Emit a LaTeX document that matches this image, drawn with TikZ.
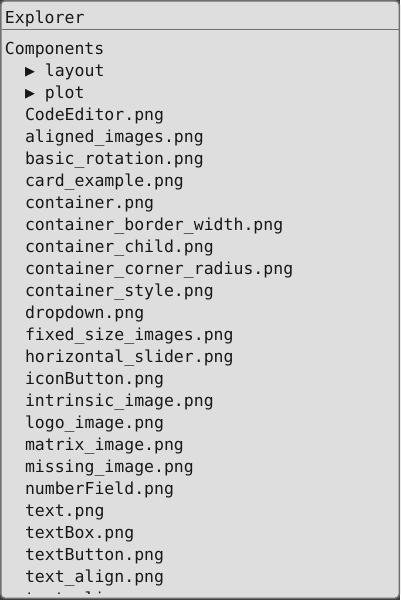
\documentclass[tikz,border=0pt]{standalone}
\usepackage{fontspec}
\setmonofont{DejaVu Sans Mono}
\definecolor{cornerbg}{RGB}{60,60,60}
\definecolor{panel}{RGB}{222,222,222}
\definecolor{bordc}{RGB}{112,112,112}
\definecolor{txt}{RGB}{24,24,24}
\begin{document}
\begin{tikzpicture}[x=1pt,y=-1pt,
  lbl/.style={anchor=base west, inner sep=0pt, outer sep=0pt,
    font=\fontsize{16.5}{16.5}\selectfont\ttfamily, text=txt}]
\useasboundingbox (0,0) rectangle (400,600);
\fill[cornerbg] (0,0) rectangle (400,600);
\draw[fill=panel, draw=bordc, line width=1.5pt, rounded corners=4pt] (0.75,0.75) rectangle (399.25,598.25);
\draw[bordc, line width=1pt] (1.5,29.5) -- (398.5,29.5);
\node[lbl] (title) at (5,23) {Explorer};
\node[lbl] (comp) at (5,54) {Components};
\node[lbl] (layout) at (25,76) {▶ layout};
\node[lbl] (plot) at (25,98) {▶ plot};
\begin{scope}
\clip (1.5,30) rectangle (398.5,593);
\foreach \t [count=\i] in {CodeEditor.png, aligned\_images.png, basic\_rotation.png,
  card\_example.png, container.png, container\_border\_width.png,
  container\_child.png, container\_corner\_radius.png, container\_style.png,
  dropdown.png, fixed\_size\_images.png, horizontal\_slider.png, iconButton.png,
  intrinsic\_image.png, logo\_image.png, matrix\_image.png, missing\_image.png,
  numberField.png, text.png, textBox.png, textButton.png, text\_align.png,
  text\_align\_rows.png}
  \node[lbl] (f\i) at (25,{120+22*(\i-1)}) {\t};
\end{scope}
\end{tikzpicture}
\end{document}
